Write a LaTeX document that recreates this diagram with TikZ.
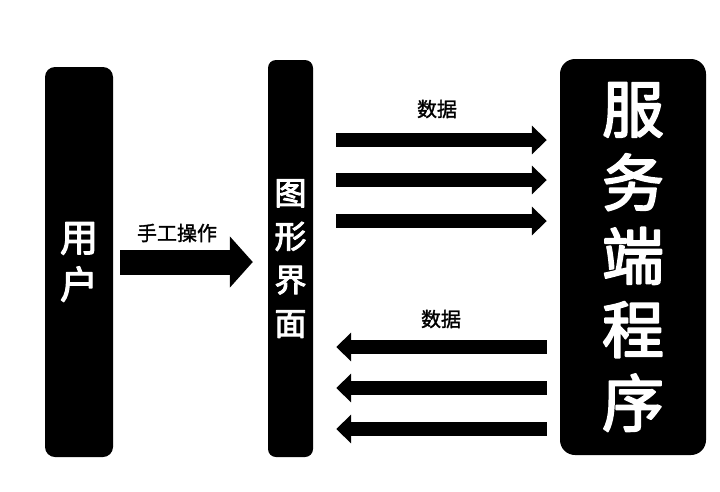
\documentclass[tikz,border=0pt]{standalone}
\usepackage{fontspec}
\setmainfont{Noto Sans CJK SC}
\newfontfamily\cjkmid{Noto Sans CJK SC}[FakeBold=3]
\newfontfamily\cjklbl{Noto Sans CJK SC}[FakeBold=1.5]
\usetikzlibrary{arrows.meta}
\begin{document}
\begin{tikzpicture}[x=1pt,y=-1pt,line join=round,
	box/.style={fill=black,text=white,inner sep=0pt,align=center},
	fat/.style={line width=14pt,-{Triangle[width=28pt,length=15pt]}},
	fatter/.style={line width=25pt,-{Triangle[width=50pt,length=23pt]}},
	lbl/.style={font=\fontsize{20}{20}\cjklbl}]
	\useasboundingbox (0,0) rectangle (720,491);
	% Kästen
	\node[box,rounded corners=10pt,minimum width=68pt,minimum height=390pt,
		font=\fontsize{38}{47}\cjkmid] (user) at (79,262) {用\\户};
	\node[box,rounded corners=8pt,minimum width=45pt,minimum height=397pt,
		font=\fontsize{32}{43.5}\cjkmid] (gui) at (290.5,258.5) {图\\形\\界\\面};
	\node[box,rounded corners=15pt,minimum width=146pt,minimum height=396pt,
		font=\fontsize{62}{73.5}\cjkmid] (srv) at (633,257) {服\\务\\端\\程\\序};
	% Pfeile
	\draw[fatter,shorten <=7pt,shorten >=15pt] (user.east) -- (user.east -| gui.west);
	\node[lbl] (op) at (177,233) {手工操作};
	\foreach \y in {140,180,221}
		\draw[fat,shorten <=23pt,shorten >=13pt] (gui.east |- 0,\y) -- (srv.west |- 0,\y);
	\node[lbl] (up) at (437,109) {数据};
	\foreach \y in {347,388,429}
		\draw[fat,shorten <=13pt,shorten >=23pt] (srv.west |- 0,\y) -- (gui.east |- 0,\y);
	\node[lbl] (down) at (441,319) {数据};
\end{tikzpicture}
\end{document}
